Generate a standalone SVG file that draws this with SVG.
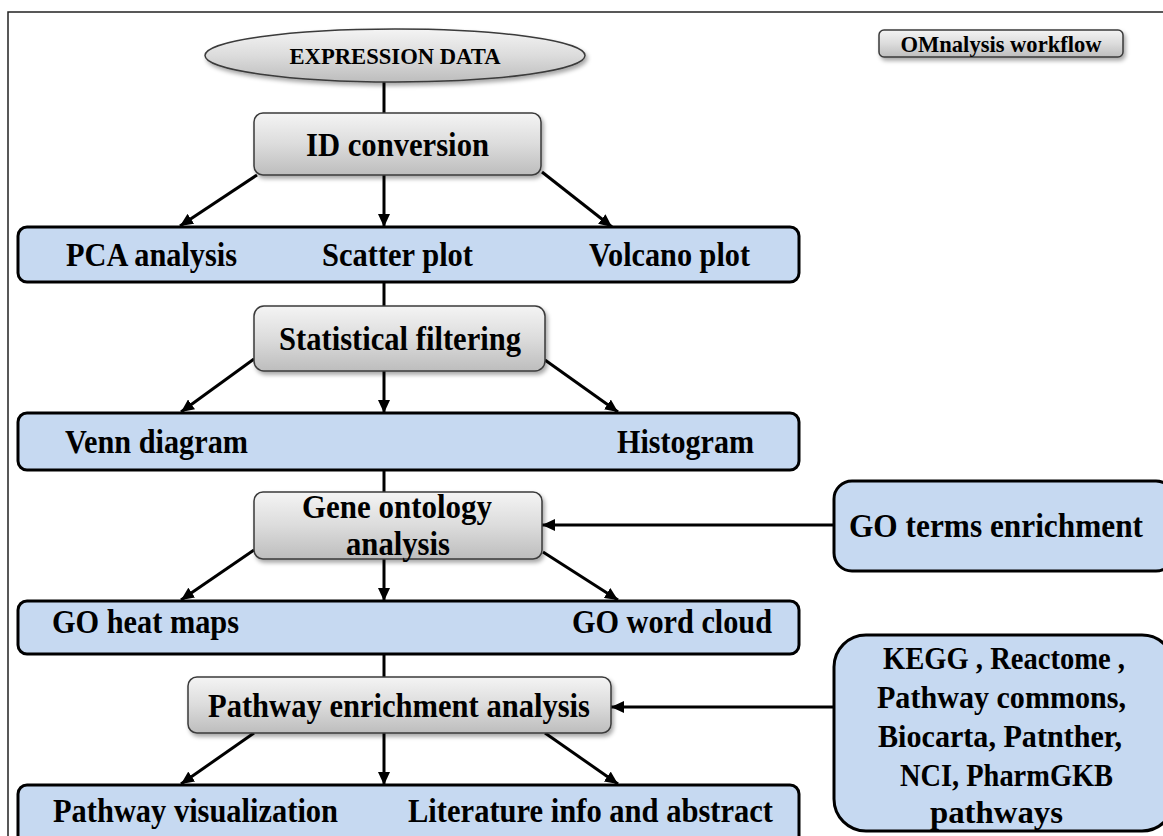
<svg xmlns="http://www.w3.org/2000/svg" width="1163" height="836" viewBox="0 0 1163 836">
  <defs>
    <linearGradient id="grayFill" x1="0" y1="0" x2="0" y2="1">
      <stop offset="0" stop-color="#f4f4f4"/>
      <stop offset="0.5" stop-color="#dcdcdc"/>
      <stop offset="1" stop-color="#bdbdbd"/>
    </linearGradient>
    <filter id="shadow" x="-10%" y="-20%" width="125%" height="150%">
      <feDropShadow dx="2" dy="3" stdDeviation="2" flood-color="#000" flood-opacity="0.35"/>
    </filter>
    <marker id="arrow" markerUnits="userSpaceOnUse" markerWidth="14" markerHeight="12" refX="13" refY="6" orient="auto">
      <path d="M0,0 L13,6 L0,12 z" fill="#000"/>
    </marker>
  </defs>
  <style>
    text { font-family: "Liberation Serif", "Times New Roman", serif; font-weight: bold; fill: #000; }
    .lbl { font-size: 33px; }
    .small { font-size: 23px; }
    .src { font-size: 31px; }
    .gray { fill: url(#grayFill); stroke: #3a3a3a; stroke-width: 1.5; filter: url(#shadow); }
    .bar { fill: #c6d9f1; stroke: #000; stroke-width: 3; }
    .link { fill: none; stroke: #000; stroke-width: 3; }
    .arr { marker-end: url(#arrow); }
  </style>

  <rect width="1163" height="836" fill="#fff"/>
  <!-- outer frame -->
  <path d="M8,840 V12 H1165" fill="none" stroke="#222" stroke-width="1.5"/>

  <!-- connectors -->
  <g id="connectors">
    <line class="link" x1="384" y1="82" x2="384" y2="113"/>
    <line class="link arr" x1="257" y1="175" x2="180" y2="226"/>
    <line class="link arr" x1="384" y1="175" x2="384" y2="227"/>
    <line class="link arr" x1="542" y1="172" x2="612" y2="227"/>

    <line class="link" x1="384" y1="282" x2="384" y2="306"/>
    <line class="link arr" x1="254" y1="359" x2="181" y2="412"/>
    <line class="link arr" x1="384" y1="371" x2="384" y2="413"/>
    <line class="link arr" x1="545" y1="360" x2="618" y2="412"/>

    <line class="link" x1="384" y1="470" x2="384" y2="492"/>
    <line class="link arr" x1="834" y1="525" x2="542" y2="525"/>
    <line class="link arr" x1="254" y1="550" x2="181" y2="600"/>
    <line class="link arr" x1="384" y1="559" x2="384" y2="601"/>
    <line class="link arr" x1="543" y1="552" x2="618" y2="600"/>

    <line class="link" x1="384" y1="654" x2="384" y2="677"/>
    <line class="link arr" x1="834" y1="707" x2="611" y2="707"/>
    <line class="link arr" x1="254" y1="733" x2="181" y2="784"/>
    <line class="link arr" x1="384" y1="733" x2="384" y2="785"/>
    <line class="link arr" x1="545" y1="733" x2="618" y2="784"/>
  </g>

  <g id="title">
    <rect class="gray" x="879" y="30" width="244" height="27" rx="5"/>
    <text class="small" x="1001" y="51.5" text-anchor="middle" textLength="201" lengthAdjust="spacingAndGlyphs">OMnalysis workflow</text>
  </g>

  <g id="expression-data">
    <ellipse class="gray" cx="395" cy="55.5" rx="190" ry="26.5"/>
    <text class="small" x="395" y="64" text-anchor="middle" textLength="211" lengthAdjust="spacingAndGlyphs">EXPRESSION DATA</text>
  </g>

  <g id="id-conversion">
    <rect class="gray" x="254" y="113" width="287" height="62" rx="9"/>
    <text class="lbl" x="397.5" y="156" text-anchor="middle" textLength="183" lengthAdjust="spacingAndGlyphs">ID conversion</text>
  </g>

  <g id="plots">
    <rect class="bar" x="18" y="227" width="781" height="55" rx="9"/>
    <text class="lbl" x="66" y="266" textLength="171" lengthAdjust="spacingAndGlyphs">PCA analysis</text>
    <text class="lbl" x="322" y="266" textLength="151" lengthAdjust="spacingAndGlyphs">Scatter plot</text>
    <text class="lbl" x="589" y="266" textLength="161" lengthAdjust="spacingAndGlyphs">Volcano plot</text>
  </g>

  <g id="statistical-filtering">
    <rect class="gray" x="254" y="306" width="291" height="65" rx="10"/>
    <text class="lbl" x="279" y="350" textLength="242" lengthAdjust="spacingAndGlyphs">Statistical filtering</text>
  </g>

  <g id="filter-views">
    <rect class="bar" x="18" y="413" width="781" height="57" rx="9"/>
    <text class="lbl" x="65" y="453" textLength="183" lengthAdjust="spacingAndGlyphs">Venn diagram</text>
    <text class="lbl" x="617" y="453" textLength="137" lengthAdjust="spacingAndGlyphs">Histogram</text>
  </g>

  <g id="gene-ontology">
    <rect class="gray" x="254" y="492" width="288" height="67" rx="9"/>
    <text class="lbl" x="302" y="518" textLength="190" lengthAdjust="spacingAndGlyphs">Gene ontology</text>
    <text class="lbl" x="346" y="555" textLength="104" lengthAdjust="spacingAndGlyphs">analysis</text>
  </g>

  <g id="go-terms">
    <rect class="bar" x="834" y="481" width="340" height="90" rx="18"/>
    <text class="lbl" x="849" y="537" textLength="294" lengthAdjust="spacingAndGlyphs">GO terms enrichment</text>
  </g>

  <g id="go-views">
    <rect class="bar" x="18" y="601" width="781" height="53" rx="9"/>
    <text class="lbl" x="52" y="633" textLength="187" lengthAdjust="spacingAndGlyphs">GO heat maps</text>
    <text class="lbl" x="572" y="633" textLength="200" lengthAdjust="spacingAndGlyphs">GO word cloud</text>
  </g>

  <g id="pathway-enrichment">
    <rect class="gray" x="188" y="677" width="423" height="56" rx="9"/>
    <text class="lbl" x="208" y="717" textLength="382" lengthAdjust="spacingAndGlyphs">Pathway enrichment analysis</text>
  </g>

  <g id="pathway-sources">
    <rect class="bar" x="834" y="635" width="340" height="196" rx="32"/>
    <text class="src" x="883" y="669" textLength="242" lengthAdjust="spacingAndGlyphs">KEGG , Reactome ,</text>
    <text class="src" x="877" y="708" textLength="249" lengthAdjust="spacingAndGlyphs">Pathway commons,</text>
    <text class="src" x="878" y="747" textLength="244" lengthAdjust="spacingAndGlyphs">Biocarta, Patnther,</text>
    <text class="src" x="900" y="786" textLength="213" lengthAdjust="spacingAndGlyphs">NCI, PharmGKB</text>
    <text class="src" x="930" y="823" textLength="133" lengthAdjust="spacingAndGlyphs">pathways</text>
  </g>

  <g id="pathway-views">
    <rect class="bar" x="18" y="785" width="781" height="62" rx="9"/>
    <text class="lbl" x="53" y="822" textLength="285" lengthAdjust="spacingAndGlyphs">Pathway visualization</text>
    <text class="lbl" x="408" y="822" textLength="365" lengthAdjust="spacingAndGlyphs">Literature info and abstract</text>
  </g>
</svg>
